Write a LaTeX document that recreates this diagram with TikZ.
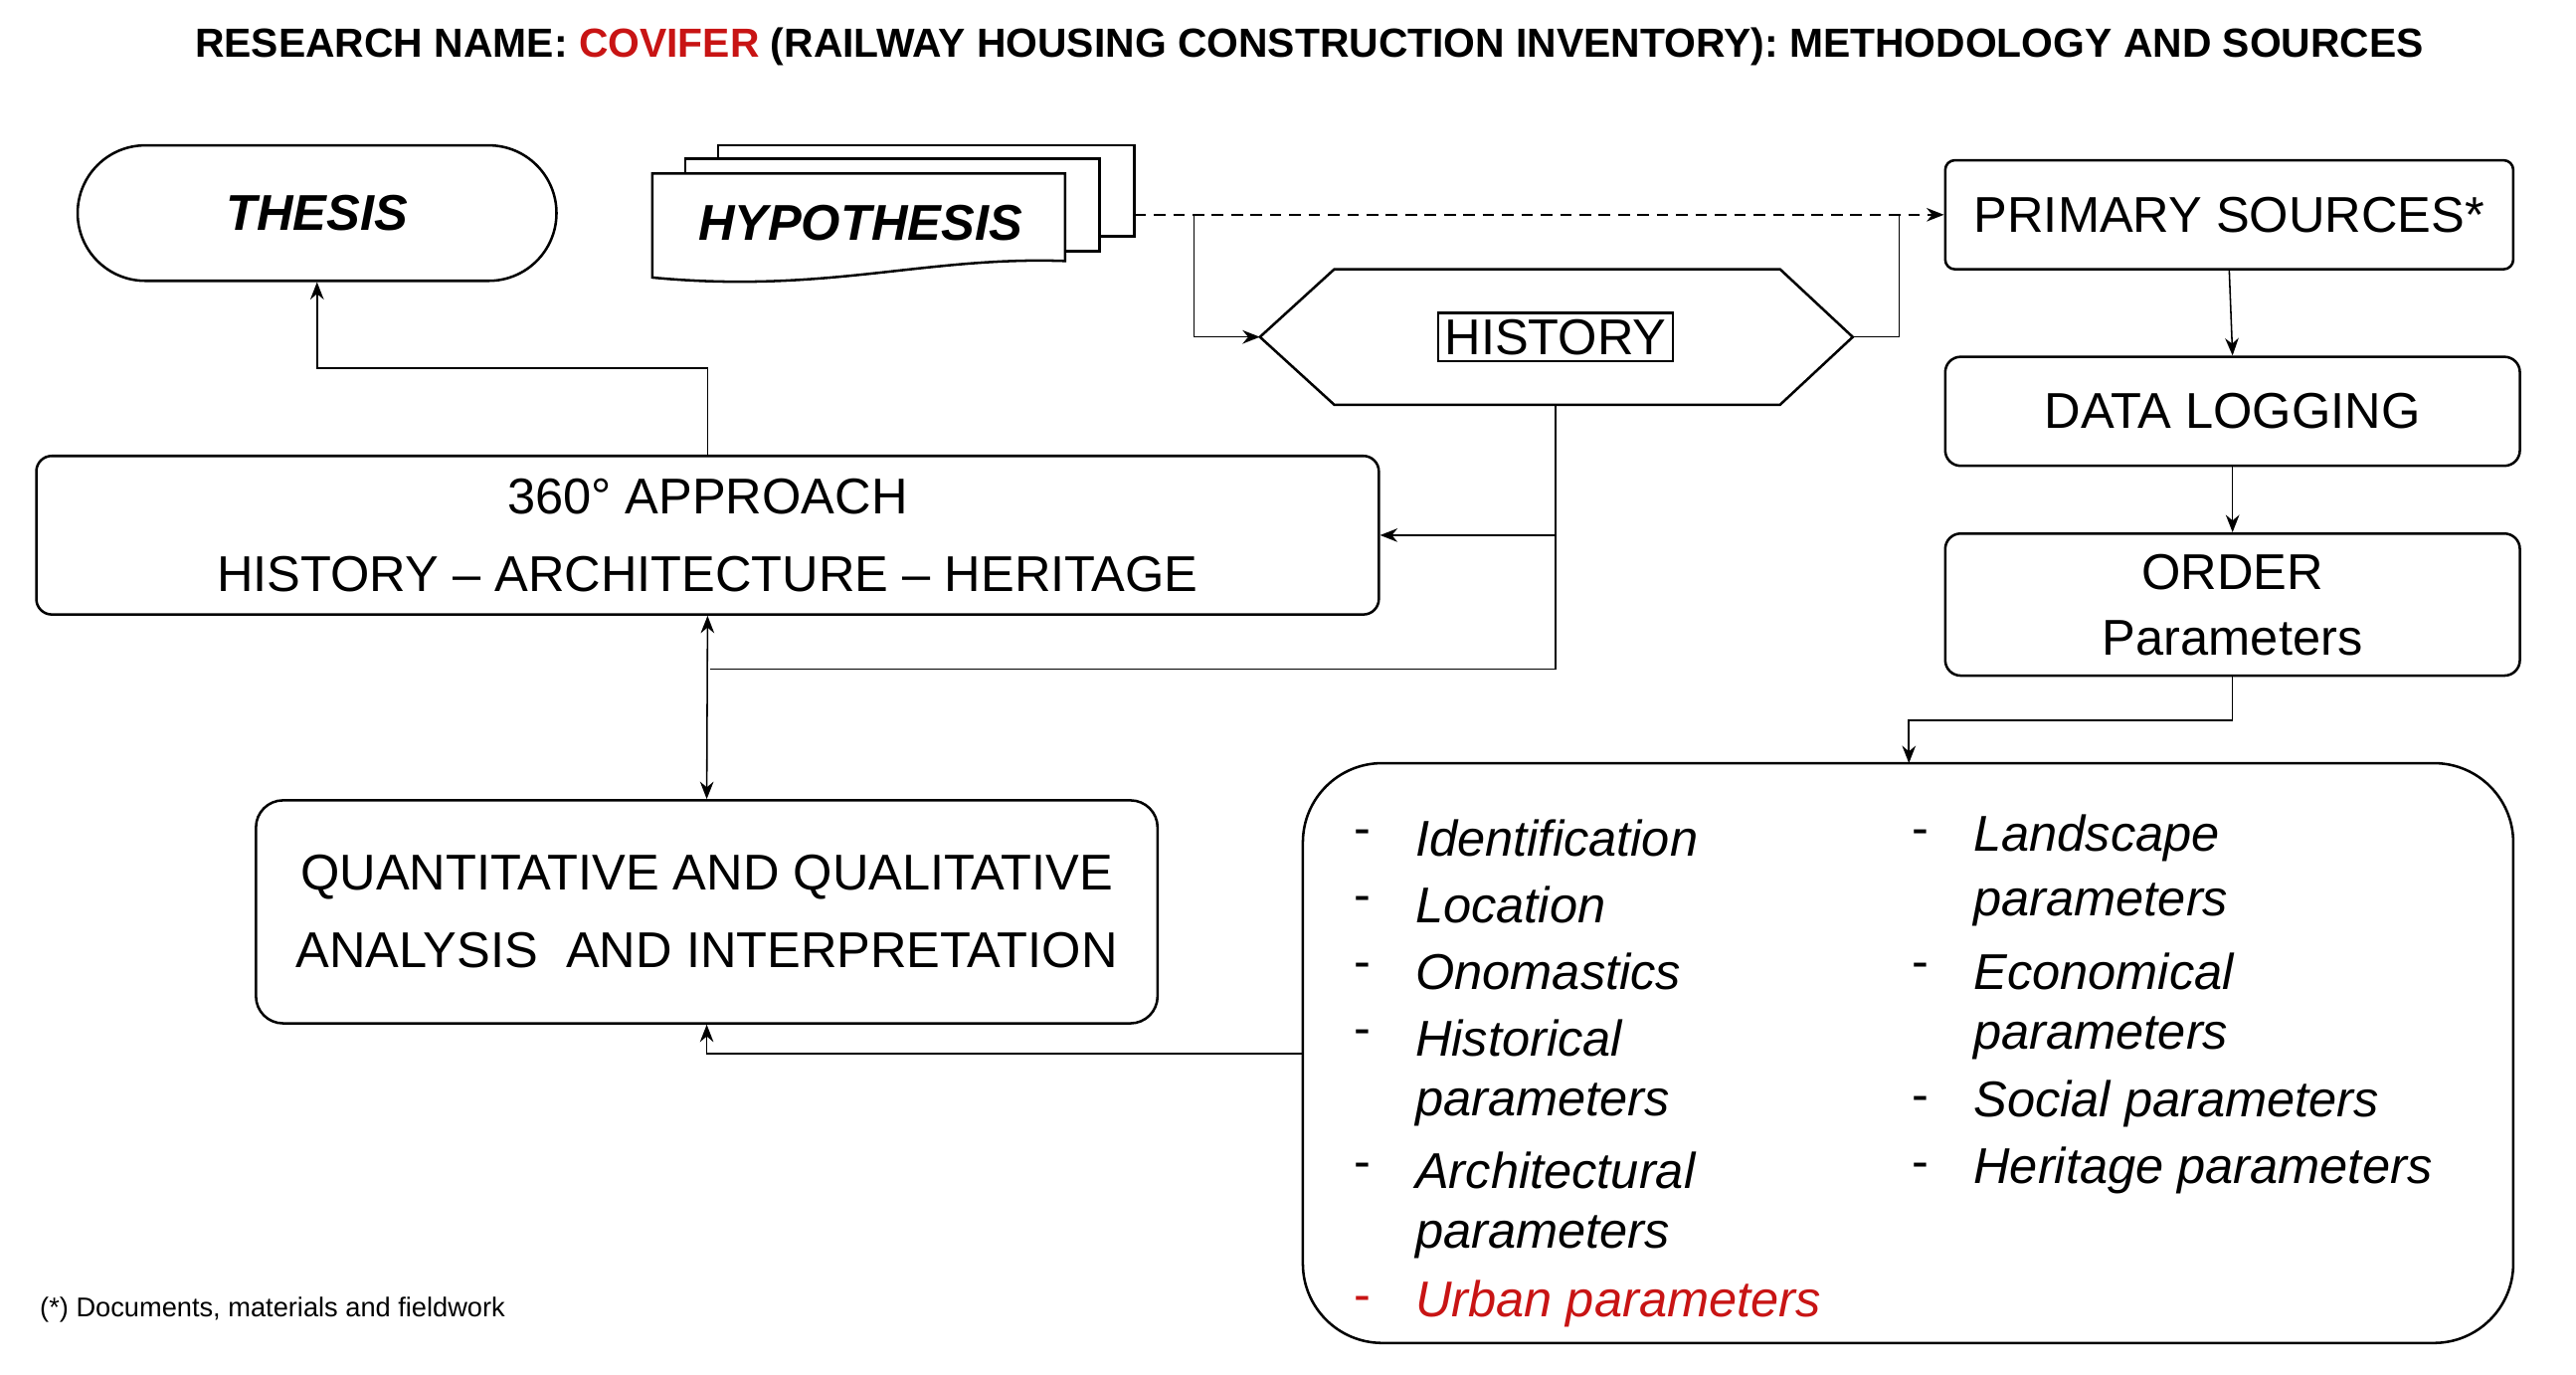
\documentclass[tikz,border=0pt]{standalone}
\usepackage{fontspec}
\setmainfont{Liberation Sans}
\usetikzlibrary{shapes.geometric,arrows.meta}
\definecolor{red}{RGB}{200,20,20}
\begin{document}
\begin{tikzpicture}[x=0.03cm,y=-0.03cm,
  box/.style={draw,line width=1.3pt,rounded corners=8pt,align=center,inner sep=0pt,font=\fontsize{26}{34}\selectfont},
  ln/.style={line width=0.8pt},
  ar/.style={ln,-{Stealth[length=9pt,width=7pt]}},
  lt/.style={anchor=west,font=\fontsize{26}{30}\selectfont\itshape,inner sep=0pt}]
\useasboundingbox (0,0) rectangle (1560,832);
\node[font=\fontsize{21}{24}\selectfont\bfseries] (title) at (793,28) {RESEARCH NAME: \textcolor{red}{COVIFER} (RAILWAY HOUSING CONSTRUCTION INVENTORY): METHODOLOGY AND SOURCES};
\node[box,rounded corners=41*0.03cm,minimum width=290*0.03cm,minimum height=82*0.03cm,font=\fontsize{26}{30}\selectfont\bfseries\itshape] (thesis) at (192,129) {THESIS};
% hypothesis
\draw[line width=1.3pt,fill=white] (435,88) rectangle (687,143);
\draw[line width=1.3pt,fill=white] (415,96) rectangle (666,152);
\draw[line width=1.3pt,fill=white] (395,105) -- (645,105) -- (645,158) .. controls (560,155) and (500,178) .. (395,168) -- cycle;
\node[font=\fontsize{26}{30}\selectfont\bfseries\itshape] (hyp) at (521,135) {HYPOTHESIS};
\coordinate (hr) at (687,130);
\node[box,rounded corners=5pt,minimum width=344*0.03cm,minimum height=66*0.03cm] (ps) at (1350,130) {PRIMARY SOURCES*};
\node[draw,line width=1.3pt,font=\fontsize{26}{30}\selectfont] (hist) at (942,204) {HISTORY};
\draw[line width=1.3pt] (763,204) -- (808,163) -- (1078,163) -- (1122,204) -- (1078,245) -- (808,245) -- cycle;
\coordinate (hl) at (763,204); \coordinate (hrt) at (1122,204); \coordinate (hb) at (942,245);
\node[box,minimum width=348*0.03cm,minimum height=66*0.03cm] (dl) at (1352,249) {DATA LOGGING};
\node[box,minimum width=348*0.03cm,minimum height=86*0.03cm] (ord) at (1352,366) {ORDER\\Parameters};
\node[box,minimum width=813*0.03cm,minimum height=96*0.03cm,font=\fontsize{26}{40}\selectfont] (app) at (428.5,324) {360° APPROACH\\HISTORY – ARCHITECTURE – HERITAGE};
\node[box,rounded corners=14pt,minimum width=546*0.03cm,minimum height=135*0.03cm,font=\fontsize{26}{40}\selectfont] (qa) at (428,552) {QUANTITATIVE AND QUALITATIVE\\ANALYSIS~ AND INTERPRETATION};
\node[box,rounded corners=48*0.03cm,minimum width=733*0.03cm,minimum height=351*0.03cm] (list) at (1155.5,637.5) {};
\foreach \t [count=\i] in {Identification,Location,Onomastics,Historical,parameters,Architectural,parameters}{
  \node[lt] at (857,467+40.3*\i) {\t};}
\foreach \i in {1,2,3,4,6}{\node[lt,font=\fontsize{26}{30}\selectfont] at (820,467+40.3*\i) {-};}
\node[lt,text=red] at (857,467+40.3*8) {Urban parameters};
\node[lt,text=red,font=\fontsize{26}{30}\selectfont] at (820,467+40.3*8) {-};
\foreach \t [count=\i] in {Landscape,parameters,Economical,parameters,Social parameters,Heritage parameters}{
  \node[lt] at (1195,467+40.3*\i) {\t};}
\foreach \i in {1,3,5,6}{\node[lt,font=\fontsize{26}{30}\selectfont] at (1158,467+40.3*\i) {-};}
\node[anchor=west,inner sep=0pt,font=\fontsize{14}{16}\selectfont] (fn) at (24,793) {(*) Documents, materials and fieldwork};
% connectors
\draw[ar,dashed,dash pattern=on 6pt off 4pt] (hr) -- (ps.west);
\draw[ar] (723,130) |- (hl);
\draw[ln] (hrt) -| (1150,130);
\draw[ar] (ps.south) -- (dl.north);
\draw[ar] (dl.south) -- (ord.north);
\draw[ar] (ord.south) |- (1156,436) -- (1156,462);
\draw[ln] (hb) -- (942,405) -- (430,405);
\draw[ar] (942,324) -- (app.east);
\draw[ar] (app.north) |- (192,223) -- (thesis.south);
\draw[ln,{Stealth[length=9pt,width=7pt]}-{Stealth[length=9pt,width=7pt]}] (app.south) -- (qa.north);
\draw[ar] (789,638) -| (qa.south);
\end{tikzpicture}
\end{document}
